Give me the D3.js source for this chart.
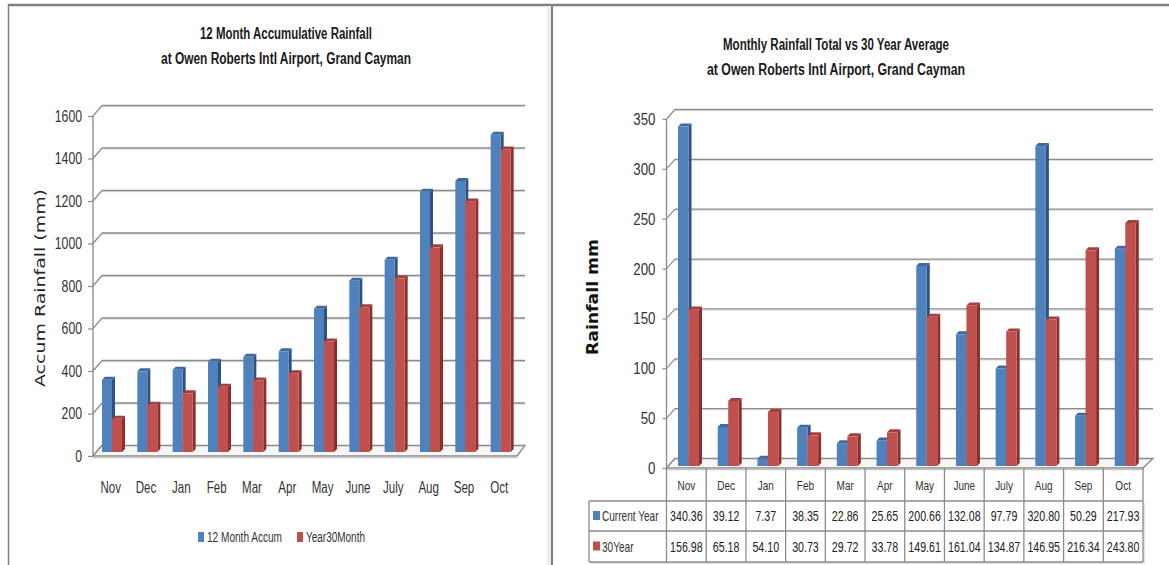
<!DOCTYPE html>
<html>
<head>
<meta charset="utf-8">
<script src="https://cdn.jsdelivr.net/npm/d3@7"></script>
<style>
  html, body { margin: 0; padding: 0; background: #fff; }
  svg { display: block; }
</style>
</head>
<body>
<div id="chart"></div>
<script>
// data
let months = ["Nov", "Dec", "Jan", "Feb", "Mar", "Apr", "May", "June", "July", "Aug", "Sep", "Oct"];

let accum_12month = [340.36, 379.48, 386.85, 425.20, 448.06, 473.71, 674.37, 806.45, 904.24, 1225.04, 1275.33, 1493.26];
let accum_year30 = [156.98, 222.16, 276.26, 306.99, 336.71, 370.49, 520.10, 681.14, 816.01, 962.96, 1179.30, 1423.10];

let current_year = [340.36, 39.12, 7.37, 38.35, 22.86, 25.65, 200.66, 132.08, 97.79, 320.80, 50.29, 217.93];
let year30 = [156.98, 65.18, 54.10, 30.73, 29.72, 33.78, 149.61, 161.04, 134.87, 146.95, 216.34, 243.80];

let left_ticks = [0, 200, 400, 600, 800, 1000, 1200, 1400, 1600];
let right_ticks = [0, 50, 100, 150, 200, 250, 300, 350];

// Arial metrics, squeezed to look like the tall narrow text of the picture
let sans = "'Liberation Sans', Arial, sans-serif";
let wide = "'DejaVu Sans', Verdana, sans-serif";

let blue = { front: "#4f81bd", side: "#2f5283", top: "#3e699d" };
let red = { front: "#c0504d", side: "#8a2f2c", top: "#a23f3c" };
let grid_col = "#8a8a8a";
let text_col = "#333333";

function squeeze(sel, f) {
  sel.each(function () {
    let w = this.getComputedTextLength();
    d3.select(this).attr("textLength", w * f).attr("lengthAdjust", "spacingAndGlyphs");
  });
}

let svg = d3.select("#chart").append("svg")
  .attr("width", 1169)
  .attr("height", 565)
  .attr("xmlns", "http://www.w3.org/2000/svg");

// panel frames
svg.append("line").attr("x1", 8).attr("x2", 1169).attr("y1", 5).attr("y2", 5)
  .attr("stroke", "#7f7f7f").attr("stroke-width", 2.5);
svg.append("line").attr("x1", 8.5).attr("x2", 8.5).attr("y1", 4).attr("y2", 565)
  .attr("stroke", "#7f7f7f").attr("stroke-width", 1.5);
svg.append("rect").attr("x", 547).attr("y", 6).attr("width", 4).attr("height", 559)
  .attr("fill", "#ececec");
svg.append("line").attr("x1", 552).attr("x2", 552).attr("y1", 4).attr("y2", 565)
  .attr("stroke", "#7f7f7f").attr("stroke-width", 2);

// a pseudo 3D column: front face, right side, top
function bar3d(g, x, w, y_top, y_base, d, col) {
  g.append("polygon")
    .attr("points", [[x + w, y_top], [x + w + d, y_top - d], [x + w + d, y_base - d], [x + w, y_base]].join(" "))
    .attr("fill", col.side);
  g.append("polygon")
    .attr("points", [[x, y_top], [x + d, y_top - d], [x + w + d, y_top - d], [x + w, y_top]].join(" "))
    .attr("fill", col.top);
  g.append("rect")
    .attr("x", x).attr("y", y_top)
    .attr("width", w).attr("height", Math.max(0, y_base - y_top))
    .attr("fill", col.front);
}

// back wall gridlines, side wall diagonals and floor
function walls(g, x, y, ticks, dx, dy, x_right) {
  let x0 = x.range()[0], x1 = x.range()[1];
  ticks.forEach(function (t) {
    let yy = y(t);
    if (t > 0) {
      g.append("line").attr("x1", x0 + dx).attr("x2", x_right).attr("y1", yy + dy + 1.2).attr("y2", yy + dy + 1.2)
        .attr("stroke", "#d9d9d9").attr("stroke-width", 1);
      g.append("line").attr("x1", x0 + dx).attr("x2", x_right).attr("y1", yy + dy).attr("y2", yy + dy)
        .attr("stroke", grid_col).attr("stroke-width", 1.3);
    }
    g.append("line").attr("x1", x0).attr("x2", x0 + dx).attr("y1", yy).attr("y2", yy + dy)
      .attr("stroke", grid_col).attr("stroke-width", 1.2);
  });
  // floor
  let yb = y(0);
  g.append("polygon")
    .attr("points", [[x0, yb], [x0 + dx, yb + dy], [x_right, yb + dy], [x1, yb]].join(" "))
    .attr("fill", "#f6f6f6").attr("stroke", grid_col).attr("stroke-width", 1.3);
  g.append("line").attr("x1", x0).attr("x2", x1).attr("y1", yb + 1.5).attr("y2", yb + 1.5)
    .attr("stroke", "#c8c8c8").attr("stroke-width", 1.5);
  g.append("line").attr("x1", x0).attr("x2", x0).attr("y1", y.range()[1]).attr("y2", yb)
    .attr("stroke", grid_col).attr("stroke-width", 1.3);
}

function style_axis(ax, size, f) {
  ax.select(".domain").remove();
  ax.selectAll(".tick line").attr("stroke", grid_col).attr("stroke-width", 1.2);
  ax.selectAll(".tick text")
    .attr("font-family", sans).attr("font-size", size).attr("fill", text_col);
  squeeze(ax.selectAll(".tick text"), f);
}

function title(g, x, y, w, s) {
  g.append("text").attr("x", x).attr("y", y).attr("text-anchor", "middle")
    .attr("font-family", sans).attr("font-weight", "bold").attr("font-size", 16)
    .attr("fill", "#1a1a1a").attr("textLength", w).attr("lengthAdjust", "spacingAndGlyphs")
    .text(s);
}

// ---------------- left chart ----------------
let left = svg.append("g");

title(left, 286, 39, 172, "12 Month Accumulative Rainfall");
title(left, 286, 64, 250, "at Owen Roberts Intl Airport, Grand Cayman");

let xL = d3.scaleBand().domain(months).range([93, 517]);
let yL = d3.scaleLinear().domain([0, 1600]).range([456, 116]);

walls(left, xL, yL, left_ticks, 9, -10.5, 525);

let axL = left.append("g").attr("transform", "translate(93,0)")
  .call(d3.axisLeft(yL).tickValues(left_ticks).tickSize(5).tickPadding(6).tickFormat(d3.format("d")));
style_axis(axL, 17, 0.72);

let barsL = left.append("g");
months.forEach(function (m, i) {
  let bx = xL(m) + 9;
  let base = yL(0) - 4;
  bar3d(barsL, bx, 10, yL(accum_12month[i]) - 4, base, 3, blue);
  bar3d(barsL, bx + 10, 10, yL(accum_year30[i]) - 4, base, 3, red);
});

let xlabL = left.selectAll(".xlab").data(months).enter().append("text")
  .attr("x", function (d) { return xL(d) + xL.bandwidth() / 2; })
  .attr("y", 493).attr("text-anchor", "middle")
  .attr("font-family", sans).attr("font-size", 16.5).attr("fill", text_col)
  .text(function (d) { return d; });
squeeze(xlabL, 0.7);

left.append("text")
  .attr("transform", "translate(45,288) rotate(-90)")
  .attr("text-anchor", "middle")
  .attr("font-family", wide).attr("font-size", 14).attr("fill", "#262626")
  .attr("textLength", 198).attr("lengthAdjust", "spacingAndGlyphs")
  .text("Accum Rainfall (mm)");

// legend
let legL = [{ name: "12 Month Accum", col: blue.front, x: 198, w: 75 },
            { name: "Year30Month", col: red.front, x: 297, w: 59 }];
legL.forEach(function (l) {
  left.append("rect").attr("x", l.x).attr("y", 532).attr("width", 6).attr("height", 10).attr("fill", l.col);
  left.append("text").attr("x", l.x + 9).attr("y", 542)
    .attr("font-family", sans).attr("font-size", 14).attr("fill", text_col)
    .attr("textLength", l.w).attr("lengthAdjust", "spacingAndGlyphs")
    .text(l.name);
});

// ---------------- right chart ----------------
let right = svg.append("g");

title(right, 836, 50, 226, "Monthly Rainfall Total vs 30 Year Average");
title(right, 836, 75, 258, "at Owen Roberts Intl Airport, Grand Cayman");

let xR = d3.scaleBand().domain(months).range([666.5, 1143]);
let yR = d3.scaleLinear().domain([0, 350]).range([468, 119]);

walls(right, xR, yR, right_ticks, 8.5, -9.5, 1153);

let axR = right.append("g").attr("transform", "translate(666.5,0)")
  .call(d3.axisLeft(yR).tickValues(right_ticks).tickSize(4).tickPadding(7).tickFormat(d3.format("d")));
style_axis(axR, 17, 0.78);

let barsR = right.append("g");
months.forEach(function (m, i) {
  let bx = xR(m) + 11.5;
  let base = yR(0) - 2;
  bar3d(barsR, bx, 10.5, yR(current_year[i]) - 2, base, 3, blue);
  bar3d(barsR, bx + 10.5, 10.5, yR(year30[i]) - 2, base, 3, red);
});

right.append("text")
  .attr("transform", "translate(598,297) rotate(-90)")
  .attr("text-anchor", "middle")
  .attr("font-family", wide).attr("font-weight", "bold").attr("font-size", 15).attr("fill", "#111")
  .attr("textLength", 116).attr("lengthAdjust", "spacingAndGlyphs")
  .text("Rainfall mm");

// data table under the right chart
let tbl = right.append("g");
let row_y = [469, 501, 531, 562];
let tab_left = 589, tab_x1 = xR.range()[1];
let line_col = "#8c8c8c";

// shadow
tbl.append("rect").attr("x", tab_left + 2).attr("y", row_y[1] + 2).attr("width", tab_x1 - tab_left)
  .attr("height", row_y[3] - row_y[1]).attr("fill", "#e4e4e4");
tbl.append("rect").attr("x", tab_left).attr("y", row_y[1]).attr("width", tab_x1 - tab_left)
  .attr("height", row_y[3] - row_y[1]).attr("fill", "#fff");

[row_y[1], row_y[2], row_y[3]].forEach(function (yy) {
  tbl.append("line").attr("x1", tab_left).attr("x2", tab_x1).attr("y1", yy).attr("y2", yy)
    .attr("stroke", line_col).attr("stroke-width", 1.3);
});
months.concat(["end"]).forEach(function (m, i) {
  let xx = i < months.length ? xR(m) : tab_x1;
  tbl.append("line").attr("x1", xx).attr("x2", xx).attr("y1", row_y[0] - 1).attr("y2", row_y[3])
    .attr("stroke", line_col).attr("stroke-width", 1.3);
});
tbl.append("line").attr("x1", tab_left).attr("x2", tab_left).attr("y1", row_y[1]).attr("y2", row_y[3])
  .attr("stroke", line_col).attr("stroke-width", 1.3);

let mlab = tbl.selectAll(".mlab").data(months).enter().append("text")
  .attr("x", function (d) { return xR(d) + xR.bandwidth() / 2; })
  .attr("y", 490).attr("text-anchor", "middle")
  .attr("font-family", sans).attr("font-size", 13.5).attr("fill", text_col)
  .text(function (d) { return d; });
squeeze(mlab, 0.74);

let table_rows = [{ name: "Current Year", vals: current_year, col: blue.front },
                  { name: "30Year", vals: year30, col: red.front }];
table_rows.forEach(function (r, ri) {
  let cy = (row_y[ri + 1] + row_y[ri + 2]) / 2;
  tbl.append("rect").attr("x", tab_left + 4).attr("y", cy - 5).attr("width", 7).attr("height", 9).attr("fill", r.col);
  // row name squeezed by a transform so its box stays inside the legend column
  tbl.append("text")
    .attr("transform", "translate(" + (tab_left + 13) + "," + (cy + 5) + ") scale(0.72,1)")
    .attr("font-family", sans).attr("font-size", 14).attr("fill", text_col)
    .text(r.name);
  let vals = tbl.selectAll(".v" + ri).data(r.vals).enter().append("text")
    .attr("x", function (d, i) { return xR(months[i]) + xR.bandwidth() / 2; })
    .attr("y", cy + 5).attr("text-anchor", "middle")
    .attr("font-family", sans).attr("font-size", 14).attr("fill", "#222")
    .text(function (d) { return d3.format(".2f")(d); });
  squeeze(vals, 0.76);
});
</script>
</body>
</html>
